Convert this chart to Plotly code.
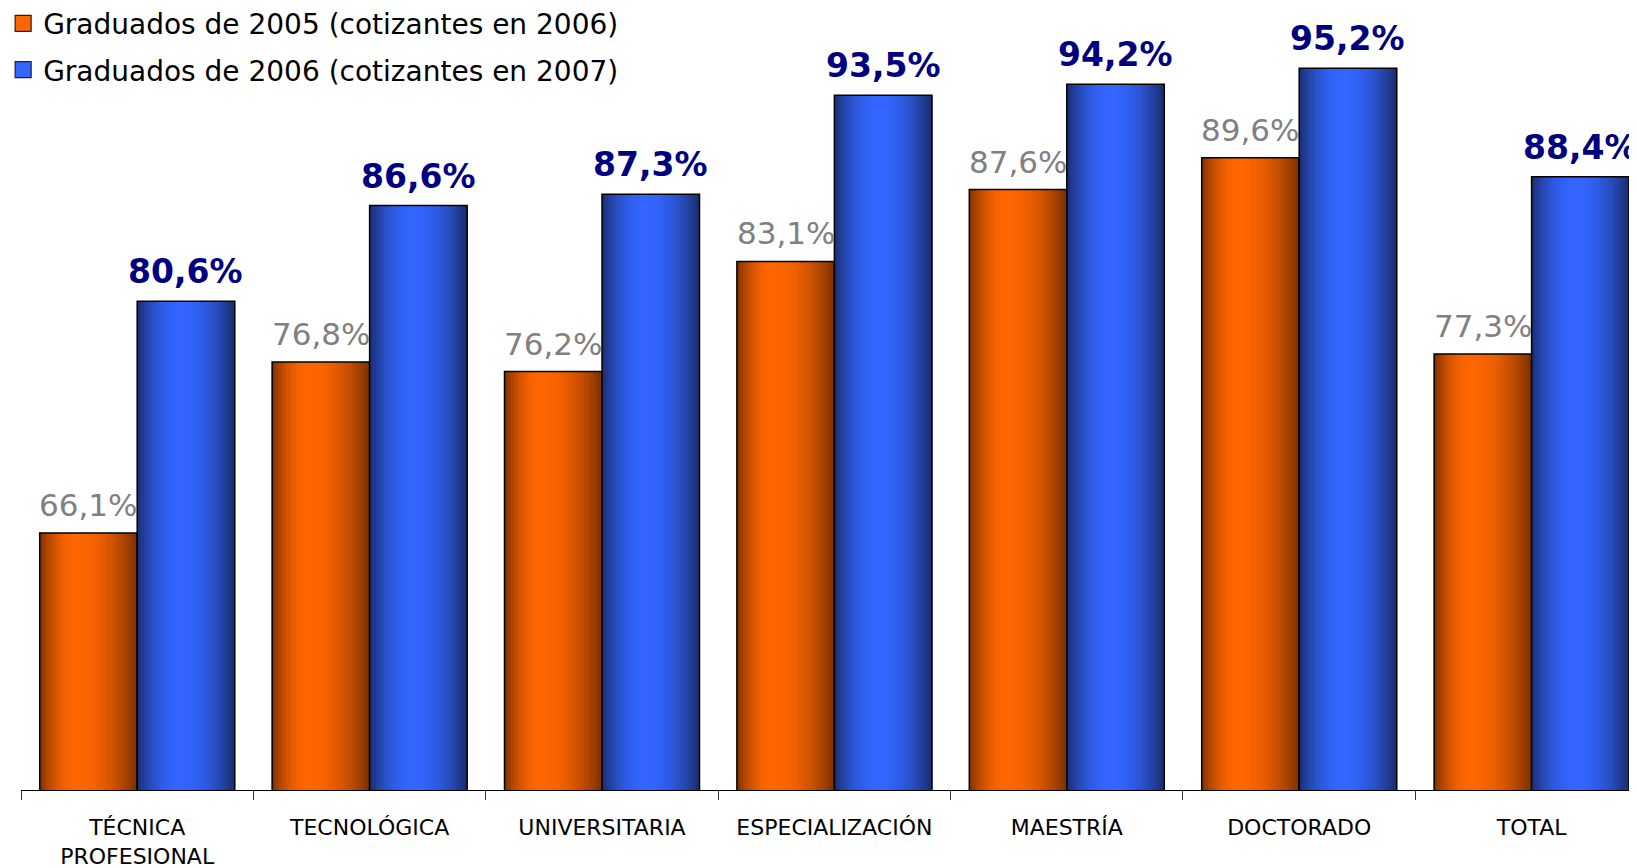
import plotly.graph_objects as go

categories = ["TÉCNICA<br>PROFESIONAL", "TECNOLÓGICA", "UNIVERSITARIA", "ESPECIALIZACIÓN",
              "MAESTRÍA", "DOCTORADO", "TOTAL"]
grad_2005 = [66.1, 76.8, 76.2, 83.1, 87.6, 89.6, 77.3]
grad_2006 = [80.6, 86.6, 87.3, 93.5, 94.2, 95.2, 88.4]
series_names = ["Graduados de 2005 (cotizantes en 2006)", "Graduados de 2006 (cotizantes en 2007)"]

FONT = "DejaVu Sans"
BW = 0.4195  # bar width in category units
N = 28       # gradient slices


def lerp(c1, c2, a):
    return "rgb(%d,%d,%d)" % tuple(round(c1[k] + (c2[k] - c1[k]) * a) for k in range(3))


def shade(t, dark, bright, tp):
    d = (t - tp) / tp if t < tp else (t - tp) / (1 - tp)
    a = max(0.0, 1 - d * d)
    return lerp(dark, bright, a)


series = [
    dict(name=series_names[0], y=grad_2005, off=-BW, dark=(122, 48, 0), bright=(255, 102, 0),
         mid="#E05A00", tp=0.38, lab_color="#808080", lab_bold=False),
    dict(name=series_names[1], y=grad_2006, off=0.0, dark=(26, 44, 108), bright=(51, 102, 255),
         mid="#2A55D8", tp=0.45, lab_color="#000080", lab_bold=True),
]

fig = go.Figure()
for gi, s in enumerate(series):
    # solid base bar under the gradient (hides seams)
    fig.add_trace(go.Bar(x=categories, y=s["y"], width=BW, offset=s["off"],
                         marker=dict(color=s["mid"], line=dict(width=0)),
                         showlegend=False, hoverinfo="skip"))
    # gradient slices
    for i in range(N):
        t = (i + 0.5) / N
        fig.add_trace(go.Bar(x=categories, y=s["y"], width=BW / N * 1.3,
                             offset=s["off"] + i * BW / N - (0.15 * BW / N if i > 0 else 0),
                             marker=dict(color=shade(t, s["dark"], s["bright"], s["tp"]), line=dict(width=0)),
                             showlegend=False, hoverinfo="skip"))
    # outline
    fig.add_trace(go.Bar(x=categories, y=s["y"], width=BW, offset=s["off"],
                         marker=dict(color="rgba(0,0,0,0)", line=dict(color="black", width=1.5)),
                         showlegend=False, hoverinfo="skip"))

# legend entries (square swatches)
legend_colors = ["#FF6600", "#3366FF"]
for gi, s in enumerate(series):
    fig.add_trace(go.Scatter(x=[None], y=[None], mode="markers", name=s["name"],
                             legendgroup="g%d" % gi,
                             marker=dict(symbol="square", size=18, color=legend_colors[gi],
                                         line=dict(color="#222222", width=1.2))))

# value labels
for gi, s in enumerate(series):
    xs = -1 if gi == 0 else 1
    for c, v in zip(categories, s["y"]):
        txt = ("%.1f%%" % v).replace(".", ",")
        if s["lab_bold"]:
            txt = "<b>" + txt + "</b>"
        fig.add_annotation(x=c, y=v, text=txt, showarrow=False, xanchor="center", yanchor="bottom",
                           xshift=xs * 48.7, yshift=8,
                           font=dict(family=FONT, size=33 if s["lab_bold"] else 31, color=s["lab_color"]))

fig.update_layout(
    width=1637, height=868,
    margin=dict(l=13, r=0, t=0, b=86, autoexpand=False),
    paper_bgcolor="white", plot_bgcolor="white",
    barmode="overlay",
    font=dict(family=FONT, color="black"),
    showlegend=True,
    legend=dict(xref="paper", yref="paper", x=-0.011, y=1.012, xanchor="left", yanchor="top",
                font=dict(family=FONT, size=28, color="black"), bgcolor="rgba(0,0,0,0)",
                traceorder="grouped", tracegroupgap=7, itemwidth=30, itemsizing="trace"),
    xaxis=dict(range=[-0.5, 6.488], showline=True, linecolor="black", linewidth=1,
               ticks="outside", tickson="boundaries", ticklen=9, tickcolor="#333333",
               tickangle=0,
               tickfont=dict(family=FONT, size=22, color="black"), ticklabelstandoff=18,
               showgrid=False, zeroline=False),
    yaxis=dict(range=[50, 98.97], visible=False, showgrid=False, zeroline=False),
)

fig.write_html("out.html")
